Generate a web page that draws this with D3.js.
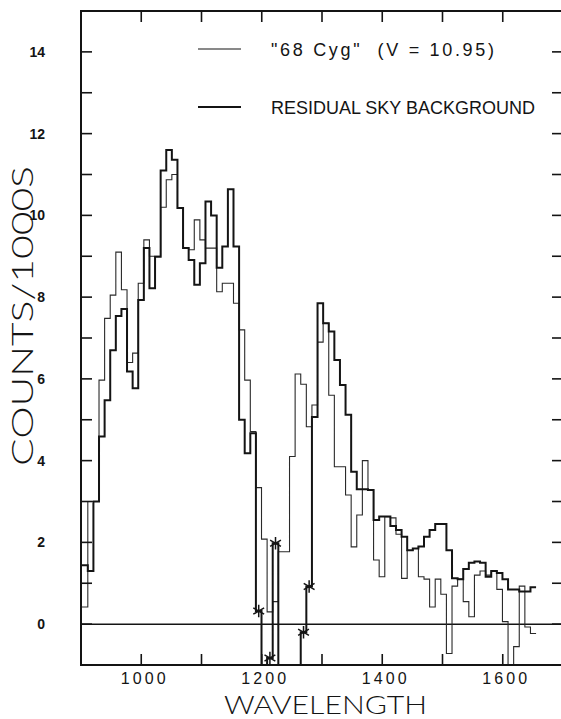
<!DOCTYPE html>
<html>
<head>
<meta charset="utf-8">
<script src="https://cdn.jsdelivr.net/npm/d3@7"></script>
<style>
  body { margin: 0; background: #fff; }
  svg { display: block; }
</style>
</head>
<body>
<div id="chart"></div>
<script>
// channel start wavelengths (A); channelEnd closes the last one
const channelStart = [
    892.7, 902.0, 911.3, 920.6, 929.9, 939.2, 948.5, 957.8, 967.1, 976.4,
    985.7, 995.0, 1004.3, 1013.6, 1022.9, 1032.2, 1041.5, 1050.8, 1060.1, 1069.4,
    1078.7, 1088.0, 1097.3, 1106.6, 1115.9, 1125.2, 1134.5, 1143.8, 1153.1, 1162.4,
    1171.7, 1181.0, 1190.3, 1199.6, 1208.9, 1218.2, 1227.5, 1236.8, 1246.1, 1255.4,
    1264.7, 1274.0, 1283.3, 1292.6, 1301.9, 1311.2, 1320.5, 1329.8, 1339.1, 1348.4,
    1357.7, 1367.0, 1376.3, 1385.6, 1394.9, 1404.2, 1413.5, 1422.8, 1432.1, 1441.4,
    1450.7, 1460.0, 1469.3, 1478.6, 1487.9, 1497.2, 1506.5, 1515.8, 1525.1, 1534.4,
    1543.7, 1553.0, 1562.3, 1571.6, 1580.9, 1590.2, 1599.5, 1608.8, 1618.1, 1627.4,
    1636.7, 1646.0
]
const channelEnd = 1655.3

// "68 Cyg" (thin line)
const starCounts = [
    0.42, 0.42, 3.0, 3.0, 5.97, 7.48, 8.05, 9.1, 8.18, 6.4,
    6.63, 8.34, 9.4, 9.0, 9.0, 10.2, 10.87, 11.0, 10.18, 9.2,
    9.16, 9.89, 9.4, 9.2, 9.2, 8.13, 8.34, 8.34, 7.85, 7.2,
    5.97, 4.71, 3.34, 2.08, 0.3, 0.55, 1.77, 1.77, 4.1, 6.12,
    5.87, 4.83, 5.36, 6.9, 7.36, 5.6, 3.85, 3.85, 3.16, 1.89,
    2.67, 4.0, 3.28, 1.57, 1.16, 2.63, 2.6, 2.2, 1.12, 1.8,
    1.85, 1.16, 1.1, 0.42, 1.1, 0.73, -0.72, 0.93, 1.1, 0.55,
    0.18, 1.2, 1.3, 1.2, 1.3, 0.85, 0.06, -1.5, -0.55, 0.93,
    -0.07, -0.23
]

// residual sky background (thick line)
const skyCounts = [
    1.44, 1.44, 1.3, 3.0, 4.59, 5.48, 6.7, 7.54, 7.71, 6.18,
    5.77, 7.93, 9.2, 8.22, 8.99, 11.1, 11.6, 11.36, 10.18, 9.2,
    8.91, 8.3, 8.83, 10.34, 10.0, 8.72, 9.24, 10.64, 9.24, 5.0,
    4.18, 4.67, 0.32, -1.5, -0.83, 1.98, -1.5, -1.5, -1.5, -1.5,
    -0.2, 0.92, 5.07, 7.85, 7.36, 7.16, 6.46, 5.85, 5.12, 3.73,
    3.3, 3.3, 3.28, 2.55, 2.63, 2.63, 2.4, 2.3, 2.14, 1.81,
    1.85, 1.9, 2.14, 2.3, 2.45, 2.45, 1.81, 1.12, 1.1, 1.35,
    1.5, 1.53, 1.5, 1.16, 1.3, 1.25, 1.1, 0.85, 0.85, 0.8,
    0.8, 0.9
]

// channels marked with an asterisk on the sky curve
const flaggedChannels = [32, 34, 35, 40, 41]

const xTicks = [900, 1000, 1100, 1200, 1300, 1400, 1500, 1600, 1700]
const xLabels = [1000, 1200, 1400, 1600]
const yTicks = [-1, 0, 1, 2, 3, 4, 5, 6, 7, 8, 9, 10, 11, 12, 13, 14, 15]
const yLabels = [0, 2, 4, 6, 8, 10, 12, 14]

const width = 561
const height = 719
const plot = { left: 81, right: 563, top: 11, bottom: 665 }
const ink = '#141414'

const svg = d3.select('#chart')
    .append('svg')
    .attr('width', width)
    .attr('height', height)

const x = d3.scaleLinear().domain([900, 1700]).range([plot.left, plot.right])
const y = d3.scaleLinear().domain([-1, 15]).range([plot.bottom, plot.top])

svg.append('clipPath')
    .attr('id', 'clip')
    .append('rect')
    .attr('x', plot.left)
    .attr('y', plot.top)
    .attr('width', plot.right - plot.left)
    .attr('height', plot.bottom - plot.top)

const stepPoints = values => {
    const pts = channelStart.map((w, i) => [w, values[i]])
    pts.push([channelEnd, values[values.length - 1]])
    return pts
}

const step = d3.line()
    .x(d => x(d[0]))
    .y(d => y(d[1]))
    .curve(d3.curveStepAfter)

const data = svg.append('g').attr('clip-path', 'url(#clip)')

// zero line
data.append('line')
    .attr('x1', plot.left)
    .attr('x2', plot.right)
    .attr('y1', y(0))
    .attr('y2', y(0))
    .attr('stroke', ink)
    .attr('stroke-width', 1.5)

data.append('path')
    .datum(stepPoints(starCounts))
    .attr('fill', 'none')
    .attr('stroke', '#2a2a2a')
    .attr('stroke-width', 1.1)
    .attr('d', step)

data.append('path')
    .datum(stepPoints(skyCounts))
    .attr('fill', 'none')
    .attr('stroke', ink)
    .attr('stroke-width', 2)
    .attr('d', step)

const centre = i => (channelStart[i] + (channelStart[i + 1] || channelEnd)) / 2
data.selectAll('.star')
    .data(flaggedChannels)
    .join('path')
    .attr('class', 'star')
    .attr('transform', i => `translate(${x(centre(i))},${y(skyCounts[i])})`)
    .attr('d', d3.symbol(d3.symbolAsterisk, 110))
    .attr('fill', 'none')
    .attr('stroke', ink)
    .attr('stroke-width', 1.5)

// frame
svg.append('rect')
    .attr('x', plot.left)
    .attr('y', plot.top)
    .attr('width', plot.right - plot.left)
    .attr('height', plot.bottom - plot.top)
    .attr('fill', 'none')
    .attr('stroke', ink)
    .attr('stroke-width', 2)

const tickLen = 11
const ticks = svg.append('g')
    .attr('stroke', ink)
    .attr('stroke-width', 1.6)
ticks.selectAll('.xb')
    .data(xTicks)
    .join('line')
    .attr('x1', d => x(d)).attr('x2', d => x(d))
    .attr('y1', plot.bottom).attr('y2', plot.bottom - tickLen)
ticks.selectAll('.xt')
    .data(xTicks)
    .join('line')
    .attr('x1', d => x(d)).attr('x2', d => x(d))
    .attr('y1', plot.top).attr('y2', plot.top + tickLen)
ticks.selectAll('.yl')
    .data(yTicks)
    .join('line')
    .attr('x1', plot.left).attr('x2', plot.left + tickLen)
    .attr('y1', d => y(d)).attr('y2', d => y(d))
ticks.selectAll('.yr')
    .data(yTicks)
    .join('line')
    .attr('x1', plot.right).attr('x2', plot.right - tickLen)
    .attr('y1', d => y(d)).attr('y2', d => y(d))

svg.selectAll('.xlab')
    .data(xLabels)
    .join('text')
    .attr('x', d => x(d) + 2)
    .attr('y', 684)
    .attr('text-anchor', 'middle')
    .attr('font-family', 'Liberation Sans, Arial, sans-serif')
    .attr('font-size', 16)
    .attr('fill', ink)
    .attr('textLength', 45)
    .text(d => d)

svg.selectAll('.ylab')
    .data(yLabels)
    .join('text')
    .attr('x', 45)
    .attr('y', d => y(d) + 5)
    .attr('text-anchor', 'end')
    .attr('font-family', 'Liberation Sans, Arial, sans-serif')
    .attr('font-size', 14)
    .attr('font-weight', 'bold')
    .attr('fill', ink)
    .text(d => d)

svg.append('text')
    .attr('x', 224)
    .attr('y', 714)
    .attr('font-family', 'Lato, DejaVu Sans, sans-serif')
    .attr('font-weight', 300)
    .attr('font-size', 26)
    .attr('fill', ink)
    .attr('textLength', 203)
    .attr('lengthAdjust', 'spacingAndGlyphs')
    .text('WAVELENGTH')

svg.append('text')
    .attr('transform', 'translate(33,316) rotate(-90)')
    .attr('text-anchor', 'middle')
    .attr('font-family', 'Lato, DejaVu Sans, sans-serif')
    .attr('font-weight', 300)
    .attr('font-size', 29)
    .attr('fill', ink)
    .attr('textLength', 300)
    .attr('lengthAdjust', 'spacingAndGlyphs')
    .text('COUNTS/1000S')

// legend
const legend = [
    { label: '"68 Cyg"  (V = 10.95)', w: 1.1, y: 49, len: 223 },
    { label: 'RESIDUAL SKY BACKGROUND', w: 2, y: 107, len: 264 }
]
legend.forEach(l => {
    svg.append('line')
        .attr('x1', 198).attr('x2', 241)
        .attr('y1', l.y).attr('y2', l.y)
        .attr('stroke', ink)
        .attr('stroke-width', l.w)
    svg.append('text')
        .attr('x', 271)
        .attr('y', l.y + 7)
        .attr('font-family', 'Liberation Sans, Arial, sans-serif')
        .attr('font-size', 18)
        .attr('fill', ink)
        .attr('textLength', l.len)
        .style('white-space', 'pre')
        .text(l.label)
})
</script>
</body>
</html>
